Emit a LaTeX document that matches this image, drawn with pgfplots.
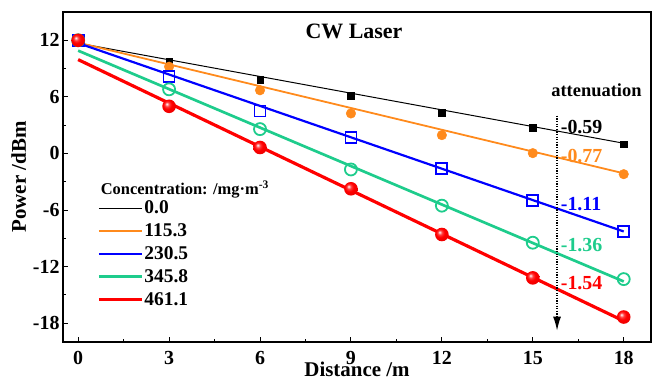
\documentclass[border=0pt]{standalone}
\usepackage{pgfplots}
\pgfplotsset{compat=1.18}
\usepackage{fontspec}
\setmainfont{Liberation Serif}
\usetikzlibrary{arrows.meta}
\definecolor{corange}{RGB}{255,138,28}
\definecolor{cgreen}{RGB}{30,204,140}
\definecolor{cblue}{RGB}{0,0,255}
\definecolor{cred}{RGB}{255,0,0}
\pgfdeclareradialshading{rballshade}{\pgfpoint{-9bp}{9bp}}{color(0bp)=(white); color(8bp)=(red!75!white); color(16bp)=(red); color(30bp)=(red!92!black); color(50bp)=(red!75!black)}
\pgfdeclareplotmark{rball}{%
  \pgfpathcircle{\pgfpointorigin}{\pgfplotmarksize}%
  \pgfshadepath{rballshade}{0}%
  \pgfusepath{}%
}
\begin{document}
\begin{tikzpicture}
\begin{axis}[
  scale only axis, width=588bp, height=330bp,
  xmin=-0.5, xmax=18.9, ymin=-20, ymax=15,
  xtick={0,3,...,18}, ytick={-18,-12,...,12},
  minor x tick num=1, minor y tick num=1,
  tick align=inside, xtick pos=bottom, ytick pos=left,
  major tick length=5bp, minor tick length=3bp,
  axis line style={line width=1.2pt}, tick style={line width=0.9pt, black},
  /pgf/number format/assume math mode=true,
  tick label style={font=\fontsize{20}{22}\selectfont\bfseries},
  xticklabel style={yshift=-6bp},
  xlabel={Distance /m}, ylabel={Power /dBm},
  label style={font=\fontsize{21}{23}\selectfont\bfseries},
  xlabel style={yshift=10bp}, ylabel style={yshift=0bp},
  clip=false,
  legend style={draw=none, fill=none, at={(rel axis cs:0.058,0.4315)}, anchor=north west,
    font=\fontsize{19.5}{21}\selectfont\bfseries, row sep=6.5bp, inner sep=0pt,
    nodes={inner sep=1pt}},
  legend cell align=left,
  legend image code/.code={\draw[#1] (0bp,0bp) -- (43bp,0bp);},
]
% fit lines (legend)
\addplot[black, line width=1pt] coordinates {(0,11.7) (18,1.08)};
\addlegendentry{0.0}
\addplot[corange, line width=1.8pt] coordinates {(0,11.75) (18,-2.11)};
\addlegendentry{115.3}
\addplot[cblue, line width=2.2pt] coordinates {(0,11.7) (18,-8.28)};
\addlegendentry{230.5}
\addplot[cgreen, line width=2.7pt] coordinates {(0,10.9) (18,-13.58)};
\addlegendentry{345.8}
\addplot[cred, line width=3.2pt] coordinates {(0,9.95) (18,-17.77)};
\addlegendentry{461.1}
% data markers
\addplot[forget plot, only marks, mark=square*, mark size=3.3bp, black] coordinates {
(0,12.0) (3,9.7) (6,7.8) (9,6.1) (12,4.3) (15,2.75) (18,1.0)};
\addplot[forget plot, only marks, mark=*, mark size=4.8bp, corange] coordinates {
(0,12.0) (3,9.2) (6,6.7) (9,4.24) (12,1.94) (15,0.03) (18,-2.2)};
\addplot[forget plot, only marks, mark=square, mark size=5.5bp, cblue, line width=1.8pt] coordinates {
(0,12.0) (3,8.2) (6,4.5) (9,1.7) (12,-1.6) (15,-5.0) (18,-8.3)};
\addplot[forget plot, only marks, mark=o, mark size=6bp, cgreen, line width=1.8pt] coordinates {
(0,12.0) (3,6.8) (6,2.58) (9,-1.7) (12,-5.54) (15,-9.47) (18,-13.33)};
\addplot[forget plot, only marks, mark=rball, mark size=6.8bp] coordinates {
(0,12.0) (3,5.0) (6,0.63) (9,-3.75) (12,-8.6) (15,-13.2) (18,-17.35)};
% annotations
\node[font=\fontsize{22}{24}\selectfont\bfseries] at (axis cs:9.1,12.9) {CW Laser};
\node[font=\fontsize{16.5}{18}\selectfont\bfseries, anchor=west, inner sep=0pt] at (rel axis cs:0.064,0.462) {Concentration: /mg·m\textsuperscript{-3}};
\node[font=\fontsize{18.5}{20}\selectfont\bfseries] at (axis cs:17.1,6.7) {attenuation};
\draw[dash pattern=on 1.3bp off 1.3bp, line width=1.4bp, -{Latex[length=14bp,width=8bp]}] (axis cs:15.8,4.0) -- (axis cs:15.8,-18.8);
\node[font=\fontsize{20}{22}\selectfont\bfseries, anchor=west, inner sep=0pt, black] at (axis cs:15.92,2.8) {-0.59};
\node[font=\fontsize{20}{22}\selectfont\bfseries, anchor=west, inner sep=0pt, corange] at (axis cs:15.92,-0.25) {-0.77};
\node[font=\fontsize{20}{22}\selectfont\bfseries, anchor=west, inner sep=0pt, cblue] at (axis cs:15.92,-5.35) {-1.11};
\node[font=\fontsize{20}{22}\selectfont\bfseries, anchor=west, inner sep=0pt, cgreen] at (axis cs:15.92,-9.7) {-1.36};
\node[font=\fontsize{20}{22}\selectfont\bfseries, anchor=west, inner sep=0pt, cred] at (axis cs:15.92,-13.75) {-1.54};
\coordinate (bl) at (rel axis cs:0,0);
\coordinate (tr) at (rel axis cs:1,1);
\end{axis}
\pgfresetboundingbox
\path ([shift={(-63bp,-39bp)}]bl) rectangle ([shift={(1bp,12bp)}]tr);
\end{tikzpicture}
\end{document}
